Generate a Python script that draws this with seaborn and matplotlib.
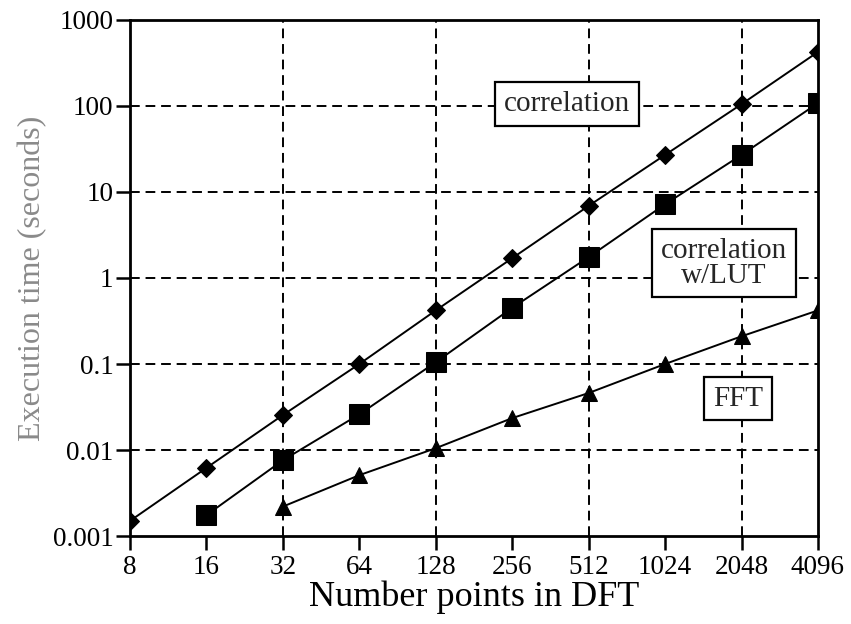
import matplotlib
matplotlib.use("Agg")
import matplotlib.pyplot as plt
import seaborn as sns
import pandas as pd
from matplotlib.ticker import FixedLocator, FixedFormatter, NullLocator

sns.set_theme(style="white")
plt.rcParams['font.family'] = ['Liberation Serif', 'DejaVu Serif']

n_points = [8, 16, 32, 64, 128, 256, 512, 1024, 2048, 4096]
corr = [0.0015, 0.0062, 0.0255, 0.1, 0.42, 1.7, 6.9, 27, 105, 425]
corr_lut_n = [16, 32, 64, 128, 256, 512, 1024, 2048, 4096]
corr_lut = [0.00175, 0.0076, 0.026, 0.105, 0.45, 1.75, 7.2, 27, 108]
fft_n = [32, 64, 128, 256, 512, 1024, 2048, 4096]
fft = [0.0022, 0.0051, 0.0105, 0.0235, 0.046, 0.1, 0.21, 0.42]
y_ticks = [0.001, 0.01, 0.1, 1, 10, 100, 1000]
y_tick_labels = ["0.001", "0.01", "0.1", "1", "10", "100", "1000"]
x_grid = [32, 128, 512, 2048]

fig = plt.figure(figsize=(8.51, 6.24), dpi=100)
ax = fig.add_axes([0.1528, 0.141, 0.8084, 0.827])

# grid lines
for yv in [0.01, 0.1, 1, 10, 100]:
    ax.axhline(yv, color='black', lw=1.4, ls=(0, (5, 3)), zorder=1)
for xv in x_grid:
    ax.axvline(xv, color='black', lw=1.4, ls=(0, (5, 3)), zorder=1)

sns.lineplot(x=n_points, y=corr, ax=ax, color='black', lw=1.4, marker='D',
             markersize=9, markeredgecolor='black', zorder=3)
sns.lineplot(x=corr_lut_n, y=corr_lut, ax=ax, color='black', lw=1.4, marker='s',
             markersize=15, markeredgecolor='black', zorder=3)
sns.lineplot(x=fft_n, y=fft, ax=ax, color='black', lw=1.4, marker='^',
             markersize=11, markeredgecolor='black', zorder=3)

ax.set_xscale('log', base=2)
ax.set_yscale('log')
ax.set_xlim(8, 4096)
ax.set_ylim(0.001, 1000)
ax.xaxis.set_major_locator(FixedLocator(n_points))
ax.xaxis.set_major_formatter(FixedFormatter([str(v) for v in n_points]))
ax.xaxis.set_minor_locator(NullLocator())
ax.yaxis.set_major_locator(FixedLocator(y_ticks))
ax.yaxis.set_major_formatter(FixedFormatter(y_tick_labels))
ax.yaxis.set_minor_locator(NullLocator())

ax.tick_params(axis='both', which='major', direction='out', length=10, width=1.8,
               color='black', labelsize=19.5, labelcolor='black', left=True, bottom=True)
ax.tick_params(axis='x', pad=4)
ax.tick_params(axis='y', pad=2)
for s in ax.spines.values():
    s.set_color('black')
    s.set_linewidth(2)

ax.set_xlabel("Number points in DFT", fontsize=26, color='black', labelpad=0)
ax.set_ylabel("Execution time (seconds)", fontsize=23, color='#8a8a8a', labelpad=4)

bbox = dict(boxstyle='square,pad=0.3', facecolor='white', edgecolor='black', lw=1.6)
ax.text(0.635, 0.837, "correlation", transform=ax.transAxes, ha='center', va='center',
        fontsize=21, bbox=bbox, zorder=4)
ax.text(0.863, 0.529, "correlation\nw/LUT", transform=ax.transAxes, ha='center', va='center',
        fontsize=21, bbox=bbox, linespacing=0.95, zorder=4)
ax.text(0.884, 0.266, "FFT", transform=ax.transAxes, ha='center', va='center',
        fontsize=21, bbox=bbox, zorder=4)

fig.savefig("out.png", dpi=100)
